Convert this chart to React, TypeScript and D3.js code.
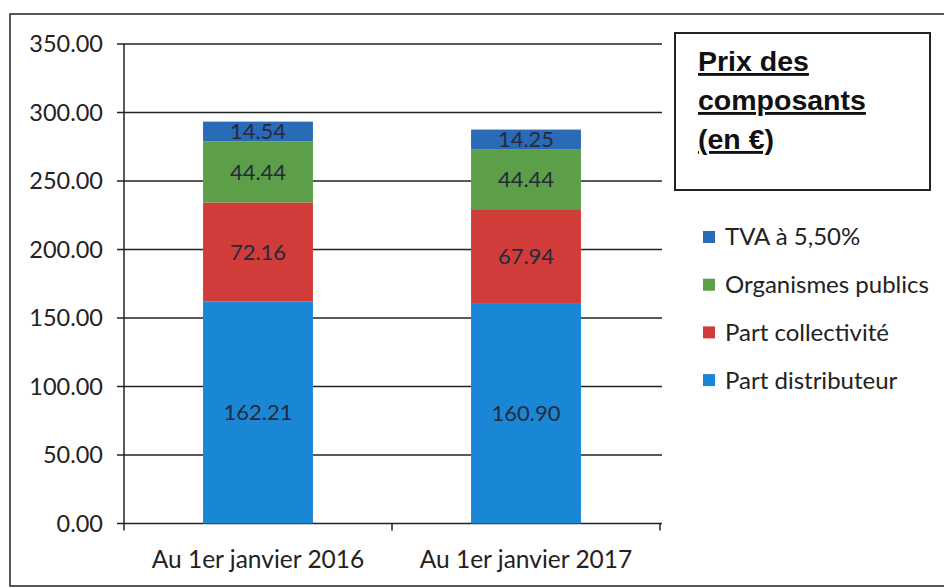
import React, { useEffect, useRef } from 'react';
import * as d3 from 'd3';

const categories = ['Au 1er janvier 2016', 'Au 1er janvier 2017'];
const partDistributeur = [162.21, 160.9];
const partCollectivite = [72.16, 67.94];
const organismesPublics = [44.44, 44.44];
const tva = [14.54, 14.25];
const yTicks = [0, 50, 100, 150, 200, 250, 300, 350];

const seriesNames = ['Part distributeur', 'Part collectivité', 'Organismes publics', 'TVA à 5,50%'];
const seriesColors = ['#1a86d6', '#d03c3a', '#5c9f48', '#2a6bb8'];
const titleLines = ['Prix des', 'composants', '(en €)'];

const App: React.FC = () => {
  const svgRef = useRef<SVGSVGElement | null>(null);

  useEffect(() => {
    const svg = d3.select(svgRef.current);
    svg.selectAll('*').remove();
    const font = 'Lato, "Noto Sans", sans-serif';

    const rows = categories.map((c, i) => ({
      cat: c,
      'Part distributeur': partDistributeur[i],
      'Part collectivité': partCollectivite[i],
      'Organismes publics': organismesPublics[i],
      'TVA à 5,50%': tva[i],
    }));
    const stacked = d3.stack<any>().keys(seriesNames)(rows);

    const plot = { left: 124, right: 660, top: 44, bottom: 523.5 };

    const x = d3
      .scaleBand()
      .domain(categories)
      .range([plot.left, plot.right])
      .paddingInner(0.59)
      .paddingOuter(0.295);

    const y = d3.scaleLinear().domain([0, 350]).range([plot.bottom, plot.top]);

    // outer frame
    svg
      .append('rect')
      .attr('x', 10)
      .attr('y', 14)
      .attr('width', 960)
      .attr('height', 572)
      .attr('fill', 'none')
      .attr('stroke', '#222')
      .attr('stroke-width', 1.5);

    // gridlines
    svg
      .append('g')
      .selectAll('line')
      .data(yTicks)
      .enter()
      .append('line')
      .attr('x1', plot.left - 7)
      .attr('x2', plot.right + 2)
      .attr('y1', d => y(d))
      .attr('y2', d => y(d))
      .attr('stroke', '#222')
      .attr('stroke-width', 1.5);

    // y labels
    svg
      .append('g')
      .selectAll('text')
      .data(yTicks)
      .enter()
      .append('text')
      .attr('x', 103)
      .attr('y', d => y(d))
      .attr('dy', '0.35em')
      .attr('text-anchor', 'end')
      .attr('font-family', font)
      .attr('font-size', 23.5)
      .attr('fill', '#222')
      .text(d => d.toFixed(2));

    // y axis line
    svg
      .append('line')
      .attr('x1', plot.left)
      .attr('x2', plot.left)
      .attr('y1', plot.top)
      .attr('y2', plot.bottom + 7)
      .attr('stroke', '#222')
      .attr('stroke-width', 1.5);

    // x category ticks
    const xTickPos = [plot.left + x.step(), plot.right];
    svg
      .append('g')
      .selectAll('line')
      .data(xTickPos)
      .enter()
      .append('line')
      .attr('x1', d => d)
      .attr('x2', d => d)
      .attr('y1', plot.bottom)
      .attr('y2', plot.bottom + 7)
      .attr('stroke', '#222')
      .attr('stroke-width', 1.5);

    // bars
    const layers = svg
      .append('g')
      .selectAll('g')
      .data(stacked)
      .enter()
      .append('g')
      .attr('fill', (_, i) => seriesColors[i]);

    layers
      .selectAll('rect')
      .data(d => d)
      .enter()
      .append('rect')
      .attr('x', (d: any) => x(d.data.cat)!)
      .attr('y', d => y(d[1]))
      .attr('width', x.bandwidth())
      .attr('height', d => y(d[0]) - y(d[1]));

    // value labels
    layers
      .selectAll('text')
      .data(d => d.map(v => ({ v, key: d.key })))
      .enter()
      .append('text')
      .attr('x', (d: any) => x(d.v.data.cat)! + x.bandwidth() / 2)
      .attr('y', (d: any) => y((d.v[0] + d.v[1]) / 2))
      .attr('dy', '0.35em')
      .attr('text-anchor', 'middle')
      .attr('font-family', font)
      .attr('font-size', 22)
      .attr('fill', '#262a3a')
      .text((d: any) => (d.v[1] - d.v[0]).toFixed(2));

    // category labels
    svg
      .append('g')
      .selectAll('text')
      .data(categories)
      .enter()
      .append('text')
      .attr('x', d => x(d)! + x.bandwidth() / 2)
      .attr('y', 568)
      .attr('text-anchor', 'middle')
      .attr('font-family', font)
      .attr('font-size', 24.5)
      .attr('fill', '#222')
      .text(d => d);

    // title box
    svg
      .append('rect')
      .attr('x', 675)
      .attr('y', 33)
      .attr('width', 255)
      .attr('height', 157)
      .attr('fill', 'white')
      .attr('stroke', '#222')
      .attr('stroke-width', 2);

    svg
      .append('g')
      .selectAll('text')
      .data(titleLines)
      .enter()
      .append('text')
      .attr('x', 698)
      .attr('y', (_, i) => 71 + i * 39)
      .attr('font-family', '"Liberation Sans", Arial, sans-serif')
      .attr('font-weight', 'bold')
      .attr('font-size', 28.5)
      .attr('text-decoration', 'underline')
      .attr('fill', '#111')
      .text(d => d);

    // legend
    const legendOrder = [3, 2, 1, 0];
    const legend = svg
      .append('g')
      .selectAll('g')
      .data(legendOrder)
      .enter()
      .append('g')
      .attr('transform', (_, i) => `translate(703,${237 + i * 47.7})`);

    legend
      .append('rect')
      .attr('x', 0)
      .attr('y', -6)
      .attr('width', 12)
      .attr('height', 12)
      .attr('fill', d => seriesColors[d]);

    legend
      .append('text')
      .attr('x', 22)
      .attr('y', 0)
      .attr('dy', '0.35em')
      .attr('font-family', font)
      .attr('font-size', 24)
      .attr('fill', '#222')
      .text(d => seriesNames[d]);
  }, []);

  return (
    <div>
      <svg
        ref={svgRef}
        width={944}
        height={588}
        style={{ position: 'absolute', left: 0, top: 0, background: 'white' }}
      ></svg>
    </div>
  );
};

export default App;
